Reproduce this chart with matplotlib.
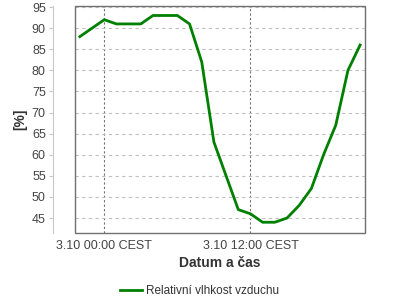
import matplotlib
matplotlib.use("Agg")
import matplotlib.pyplot as plt
from matplotlib.patches import Rectangle

plt.rcParams['font.family'] = ['Liberation Sans', 'DejaVu Sans']

# hours relative to 3.10 00:00 CEST
hours = list(range(-2, 22))
humidity = [88, 90, 92, 91, 91, 91, 93, 93, 93, 91, 82, 63,
            55, 47, 46, 44, 44, 45, 48, 52, 60, 67, 80, 86]
tick_hours = [0, 12]
tick_labels = ['3.10 00:00 CEST', '3.10 12:00 CEST']
yticks = list(range(45, 100, 5))

fig = plt.figure(figsize=(4, 3), dpi=100)
ax = fig.add_axes([0.1875, 0.2233, 0.725, 0.7567])

ax.plot(hours, humidity, color='#008000', lw=2, label='Relativní vlhkost vzduchu',
        solid_joinstyle='round')

ax.set_xlim(-2.4, 21.4)
ax.set_ylim(41.45, 95.25)
ax.set_yticks(yticks)
ax.set_xticks(tick_hours)
ax.set_xticklabels(tick_labels)

for s in ['top', 'right', 'bottom']:
    ax.spines[s].set_visible(False)
ax.spines['left'].set_position(('outward', 16))
ax.spines['left'].set_color('#c8c8c8')
ax.add_patch(Rectangle((0, 0), 1, 1, transform=ax.transAxes, fill=False,
                       edgecolor='#707070', lw=1, clip_on=False, zorder=5))

ax.yaxis.grid(True, color='#c0c0c0', linestyle=(0, (3, 3)), lw=0.8)
ax.xaxis.grid(True, color='#707070', linestyle=(0, (2, 2)), lw=0.8)
ax.tick_params(axis='y', length=3, color='#c8c8c8', labelsize=9, labelcolor='#444444', pad=2)
ax.tick_params(axis='x', length=0, labelsize=9, labelcolor='#444444', pad=5)

ax.set_ylabel('[%]', fontsize=10, fontweight='bold', color='#333333', labelpad=3)
ax.set_xlabel('Datum a čas', fontsize=10, fontweight='bold', color='#333333', labelpad=3)

fig.legend(loc='lower center', bbox_to_anchor=(0.5, -0.025), frameon=False,
           fontsize=8.5, handlelength=1.8, handletextpad=0.4,
           labelcolor='#333333')

fig.savefig('out.png', dpi=100)
